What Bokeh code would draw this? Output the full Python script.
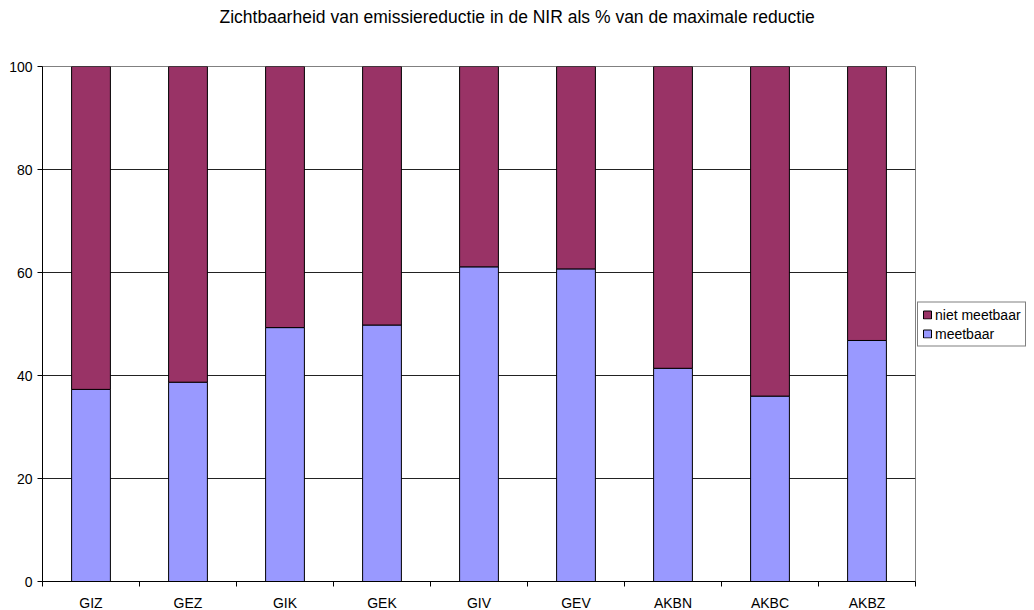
from bokeh.plotting import figure
from bokeh.models import Range1d, FixedTicker, Legend, LegendItem, ColumnDataSource, Title
from bokeh.embed import file_html
from bokeh.resources import INLINE

# ---- data ----
categories = ["GIZ", "GEZ", "GIK", "GEK", "GIV", "GEV", "AKBN", "AKBC", "AKBZ"]
meetbaar = [37.3, 38.7, 49.3, 49.8, 61.1, 60.7, 41.4, 36.0, 46.8]
niet_meetbaar = [62.7, 61.3, 50.7, 50.2, 38.9, 39.3, 58.6, 64.0, 53.2]
y_ticks = [0, 20, 40, 60, 80, 100]
series_labels = ["meetbaar", "niet meetbaar"]
title_text = "Zichtbaarheid van emissiereductie in de NIR als % van de maximale reductie"

# ---- styles ----
colors = ["#9999FF", "#993366"]
FONT = "Liberation Sans"

n = len(categories)
xs = [i + 0.5 for i in range(n)]
src = ColumnDataSource(dict(x=xs, meetbaar=meetbaar, niet=niet_meetbaar))

p = figure(frame_width=873, frame_height=515,
           output_backend="svg", toolbar_location=None,
           x_range=Range1d(0, n), y_range=Range1d(0, 100),
           min_border_left=42, min_border_top=66, min_border_right=108, min_border_bottom=21,
           outline_line_color="#808080", outline_line_width=1,
           background_fill_color="white", border_fill_color="white")

rs = p.vbar_stack(["meetbaar", "niet"], x="x", width=0.4, source=src,
                  fill_color=colors, line_color="black", line_width=1)

# spacer between the title and the frame, then the title itself above it
p.add_layout(Title(text=" ", text_font_size="1px", standoff=35), "above")
p.add_layout(Title(text=title_text, align="left", offset=177, standoff=4,
                   vertical_align="bottom", text_font=FONT, text_font_size="17.5px",
                   text_font_style="normal", text_color="black"), "above")

# x axis: labels at centres, ticks at category boundaries
p.xaxis.ticker = FixedTicker(ticks=xs, minor_ticks=list(range(n + 1)))
p.xaxis.major_label_overrides = {x: c for x, c in zip(xs, categories)}
p.xaxis.major_tick_out = 0
p.xaxis.major_tick_in = 0
p.xaxis.minor_tick_out = 5
p.xaxis.minor_tick_in = 0
p.xaxis.minor_tick_line_color = "black"
p.xaxis.major_label_standoff = 8
p.xaxis.axis_line_color = "black"
p.xaxis.major_label_text_font = FONT
p.xaxis.major_label_text_font_size = "14px"
p.xaxis.major_label_text_color = "black"

# y axis
p.yaxis.ticker = FixedTicker(ticks=y_ticks)
p.yaxis.major_tick_out = 5
p.yaxis.major_tick_in = 0
p.yaxis.major_tick_line_color = "black"
p.yaxis.minor_tick_line_color = None
p.yaxis.major_label_standoff = 5
p.yaxis.axis_line_color = "black"
p.yaxis.major_label_text_font = FONT
p.yaxis.major_label_text_font_size = "14px"
p.yaxis.major_label_text_color = "black"

p.xgrid.visible = False
p.ygrid.ticker = FixedTicker(ticks=y_ticks)
p.ygrid.grid_line_color = "#222222"
p.ygrid.grid_line_width = 1

legend = Legend(items=[LegendItem(label=series_labels[1], renderers=[rs[1]]),
                       LegendItem(label=series_labels[0], renderers=[rs[0]])],
                location="center_left", glyph_width=10, glyph_height=10,
                label_standoff=3, padding=4, spacing=3, margin=2,
                label_height=14, label_text_font=FONT, label_text_font_size="14px",
                label_text_color="black",
                border_line_color="black", border_line_width=1,
                background_fill_color="white")
p.add_layout(legend, "right")

open("out.html", "w").write(file_html(p, INLINE))
